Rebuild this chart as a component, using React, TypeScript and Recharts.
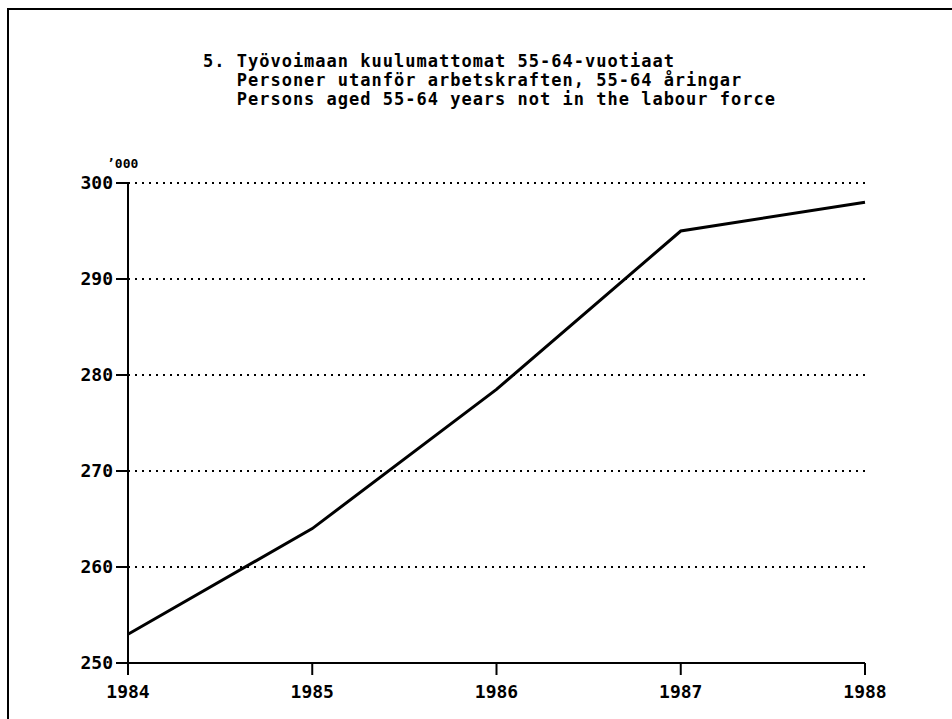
import React from "react";
import { LineChart, Line, XAxis, YAxis, CartesianGrid } from "recharts";

// Vuodet ja arvot (tuhatta henkeä)
const vuodet = [1984, 1985, 1986, 1987, 1988];
const arvot = [253, 264, 278.5, 295, 298];
const yTicks = [250, 260, 270, 280, 290, 300];

const otsikko = [
  "5. Työvoimaan kuulumattomat 55-64-vuotiaat",
  "   Personer utanför arbetskraften, 55-64 åringar",
  "   Persons aged 55-64 years not in the labour force",
];

const data = vuodet.map((v, i) => ({ vuosi: v, arvo: arvot[i] }));

const FONT = "'DejaVu Sans Mono', monospace";

export default function App() {
  return (
    <div style={{ position: "absolute", left: 0, top: 0, width: 952, height: 719, background: "#fff", overflow: "hidden" }}>
      {/* kehys */}
      <div
        style={{
          position: "absolute",
          left: 7,
          top: 8,
          width: 960,
          height: 720,
          borderLeft: "2px solid #000",
          borderTop: "2px solid #000",
        }}
      />
      {otsikko.map((r, i) => (
        <div
          key={r}
          style={{
            position: "absolute",
            left: 203,
            top: 53 + i * 19,
            fontFamily: FONT,
            fontWeight: "bold",
            fontSize: 17,
            lineHeight: "17px",
            whiteSpace: "pre",
            color: "#000",
            letterSpacing: 1,
          }}
        >
          {r}
        </div>
      ))}
      <div
        style={{
          position: "absolute",
          left: 107,
          top: 156,
          fontFamily: FONT,
          fontWeight: "bold",
          fontSize: 13,
          color: "#000",
        }}
      >
        ’000
      </div>
      <div style={{ position: "absolute", left: 0, top: 0 }}>
        <LineChart width={952} height={719} data={data} margin={{ top: 183, right: 87, bottom: 16, left: 68 }}>
          <CartesianGrid
            vertical={false}
            stroke="#000"
            strokeWidth={2}
            strokeDasharray="2 5"
          />
          <XAxis
            dataKey="vuosi"
            type="number"
            domain={[1984, 1988]}
            ticks={vuodet}
            height={40}
            tickSize={12}
            tickMargin={10}
            axisLine={{ stroke: "#000", strokeWidth: 2 }}
            tickLine={{ stroke: "#000", strokeWidth: 2 }}
            tick={{ fill: "#000", fontFamily: FONT, fontWeight: "bold", fontSize: 18 }}
          />
          <YAxis
            type="number"
            domain={[250, 300]}
            ticks={yTicks}
            width={60}
            tickSize={12}
            tickMargin={3}
            axisLine={{ stroke: "#000", strokeWidth: 2 }}
            tickLine={{ stroke: "#000", strokeWidth: 2 }}
            tick={{ fill: "#000", fontFamily: FONT, fontWeight: "bold", fontSize: 18 }}
          />
          <Line
            type="linear"
            dataKey="arvo"
            stroke="#000"
            strokeWidth={3}
            dot={false}
            isAnimationActive={false}
          />
        </LineChart>
      </div>
    </div>
  );
}
